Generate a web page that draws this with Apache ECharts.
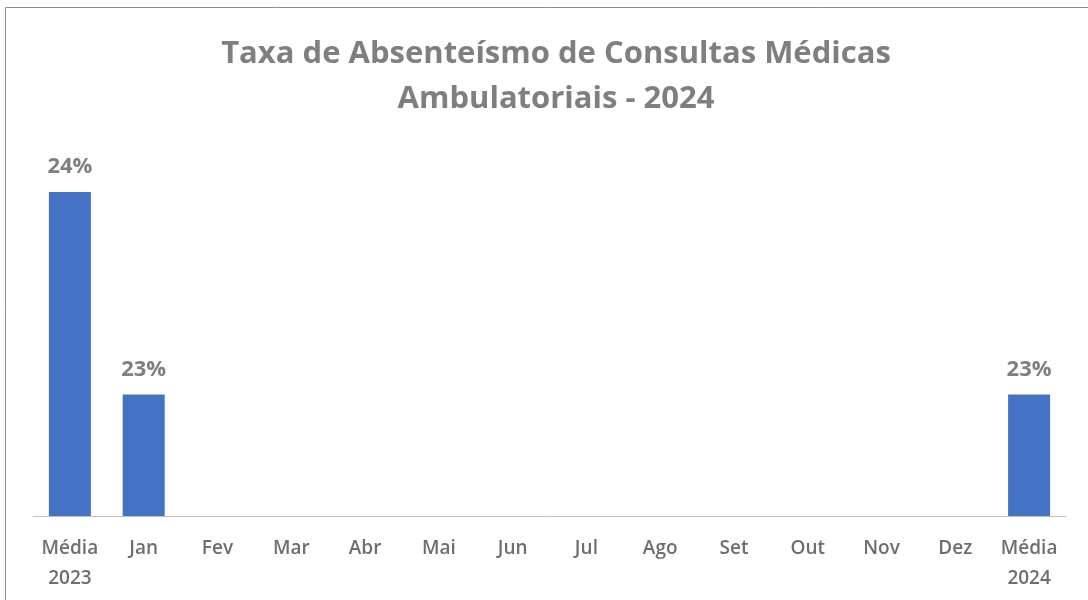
<!DOCTYPE html>
<html>
<head>
<meta charset="utf-8">
<script src="https://cdn.jsdelivr.net/npm/echarts@6/dist/echarts.min.js"></script>
<style>
  html, body { margin: 0; padding: 0; background: #fff; }
  #chart { width: 1088px; height: 600px; }
</style>
</head>
<body>
<div id="chart"></div>
<script>
// categorias do eixo x
const categorias = ['Média\n2023', 'Jan', 'Fev', 'Mar', 'Abr', 'Mai', 'Jun', 'Jul', 'Ago', 'Set', 'Out', 'Nov', 'Dez', 'Média\n2024'];
// taxa de absenteísmo (fração); meses sem dado ficam null
const taxas = [0.236, 0.226, null, null, null, null, null, null, null, null, null, null, null, 0.226];

const chart = echarts.init(document.getElementById('chart'));

const option = {
    backgroundColor: '#fff',
    animation: false,
    graphic: [
        {
            type: 'rect',
            shape: { x: 5.5, y: 7.5, width: 1100, height: 620 },
            style: { fill: 'none', stroke: '#8c8c8c', lineWidth: 1 },
            silent: true
        }
    ],
    title: {
        text: 'Taxa de Absenteísmo de Consultas Médicas\nAmbulatoriais - 2024',
        left: 551,
        textAlign: 'center',
        top: 27,
        textStyle: {
            color: '#7f7f7f',
            fontFamily: 'Open Sans',
            fontSize: 31,
            fontWeight: 'bold',
            lineHeight: 45
        }
    },
    grid: { left: 33, right: 22, top: 111, bottom: 84 },
    xAxis: {
        type: 'category',
        data: categorias,
        axisLine: { lineStyle: { color: '#bfbfbf', width: 1 } },
        axisTick: { show: false },
        axisLabel: {
            color: '#6e6e6e',
            fontFamily: 'Open Sans',
            fontSize: 19,
            fontWeight: 600,
            lineHeight: 30,
            margin: 18,
            interval: 0
        }
    },
    yAxis: {
        type: 'value',
        min: 0.22,
        max: 0.24,
        show: false,
        splitLine: { show: false }
    },
    series: [
        {
            type: 'bar',
            data: taxas,
            barWidth: 42,
            itemStyle: { color: '#4472c4' },
            label: {
                show: true,
                position: 'top',
                distance: 14,
                color: '#7f7f7f',
                fontFamily: 'Open Sans',
                fontSize: 22,
                fontWeight: 'bold',
                formatter: p => Math.round(p.value * 100) + '%'
            }
        }
    ]
};

chart.setOption(option);
</script>
</body>
</html>
